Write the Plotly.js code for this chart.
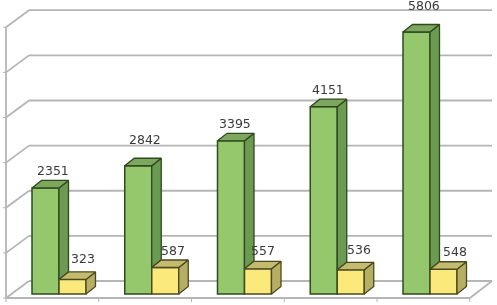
<!DOCTYPE html>
<html><head><meta charset="utf-8">
<script src="https://cdn.plot.ly/plotly-3.0.1.min.js"></script>
<style>html,body{margin:0;padding:0;background:#fff;overflow:hidden}#c{width:497px;height:305px;filter:blur(0.35px)}</style>
</head><body><div id="c"></div>
<script>
const categories = [0, 1, 2, 3, 4];
const greenValues = [2351, 2842, 3395, 4151, 5806];
const yellowValues = [323, 587, 557, 536, 548];
const gridValues = [0, 1000, 2000, 3000, 4000, 5000, 6000];
const greenLabelDx = [7, 7, 4, 4, 7];
const greenLabelDy = [17, 26, 17, 17, 26];
const yellowLabelDx = [10, 8, 5, 8, 11];
const yellowLabelDy = [21, 17, 18, 20, 18];

// pixel scale of the picture
const W = 497, H = 305, pxX = 92.75, pxY = 0.04513, base = 294, x0 = 59;
const dx = p => p / pxX, dy = p => p / pxY;
const barW = dx(27), depthX = dx(9.5), depthY = dy(7.5);
const xRange = [-x0 / pxX, (W - x0) / pxX];
const yRange = [(base - H) * 1 / pxY, base / pxY];

const COL = {gf:'#95c76c', gs:'#6c9a52', gt:'#7da65f', yf:'#fbe97c', ys:'#b6ae63', yt:'#c5bb6e', edge:'#2e4a1e', edgeY:'#4a4a20', grid:'#b5b5b5'};

const poly = (xs, ys, fill, edge) => ({type:'scatter', mode:'lines', x:[...xs, xs[0]], y:[...ys, ys[0]], fill:'toself', fillcolor:fill, line:{color:edge, width:1.3}, hoverinfo:'skip', showlegend:false});

const traces = [];
traces.push({type:'bar', x:categories, y:greenValues, width:barW, offset:-barW, marker:{color:COL.gf, line:{color:COL.edge, width:1.5}}, hoverinfo:'skip', showlegend:false});
traces.push({type:'bar', x:categories, y:yellowValues, width:barW, offset:0, marker:{color:COL.yf, line:{color:COL.edgeY, width:1.5}}, hoverinfo:'skip', showlegend:false});
categories.forEach((c, i) => {
  const g = greenValues[i], y = yellowValues[i];
  // green bar side (down to the yellow bar) and top
  traces.push(poly([c, c + depthX, c + depthX, c], [g, g + depthY, y + depthY, y], COL.gs, COL.edge));
  traces.push(poly([c - barW, c, c + depthX, c - barW + depthX], [g, g, g + depthY, g + depthY], COL.gt, COL.edge));
  // yellow bar side and top
  traces.push(poly([c + barW, c + barW + depthX, c + barW + depthX, c + barW], [y, y + depthY, depthY, 0], COL.ys, COL.edgeY));
  traces.push(poly([c, c + barW, c + barW + depthX, c + depthX], [y, y, y + depthY, y + depthY], COL.yt, COL.edgeY));
});

// walls and grid, below the bars
const shapes = [];
const line = (xa, ya, xb, yb) => shapes.push({type:'line', layer:'below', xref:'x', yref:'y', x0:xa, y0:ya, x1:xb, y1:yb, line:{color:COL.grid, width:1.8}});
const fx = -53 / pxX, bx = fx + dx(23), rightBack = dx(492 - x0), rightFront = dx(470 - x0);
const frontY = v => v - dy(4), backY = v => v + dy(13);
gridValues.forEach(v => {
  line(fx, frontY(v), bx, backY(v));
  line(bx, backY(v), rightBack, backY(v));
  shapes.push({type:'line', layer:'below', xref:'x', yref:'y', x0:fx - dx(3), y0:frontY(v), x1:fx, y1:frontY(v), line:{color:COL.grid, width:1}});
});
line(fx, frontY(0), fx, frontY(6000));
line(fx, frontY(0), rightFront, frontY(0));
line(rightFront, frontY(0), rightBack, backY(0));
[0, 1, 2, 3, 4, 5].forEach(k => {
  const xt = fx + k;
  shapes.push({type:'line', layer:'below', xref:'x', yref:'y', x0:xt, y0:frontY(0), x1:xt, y1:frontY(0) - dy(4), line:{color:COL.grid, width:1}});
});

const font = {family:'DejaVu Sans, sans-serif', size:12.5, color:'#3a3a3a'};
const annotations = [];
categories.forEach((c, i) => {
  annotations.push({x:c - barW / 2, y:greenValues[i], text:String(greenValues[i]), showarrow:false, xshift:greenLabelDx[i], yshift:greenLabelDy[i], font, xanchor:'center', yanchor:'middle'});
  annotations.push({x:c + barW / 2, y:yellowValues[i], text:String(yellowValues[i]), showarrow:false, xshift:yellowLabelDx[i], yshift:yellowLabelDy[i], font, xanchor:'center', yanchor:'middle'});
});

Plotly.newPlot('c', traces, {
  width:W, height:H, margin:{l:0, r:0, t:0, b:0}, paper_bgcolor:'#fff', plot_bgcolor:'rgba(0,0,0,0)',
  xaxis:{range:xRange, visible:false, fixedrange:true},
  yaxis:{range:yRange, visible:false, fixedrange:true},
  barmode:'overlay', showlegend:false, shapes, annotations
}, {displayModeBar:false, staticPlot:true});
</script></body></html>
